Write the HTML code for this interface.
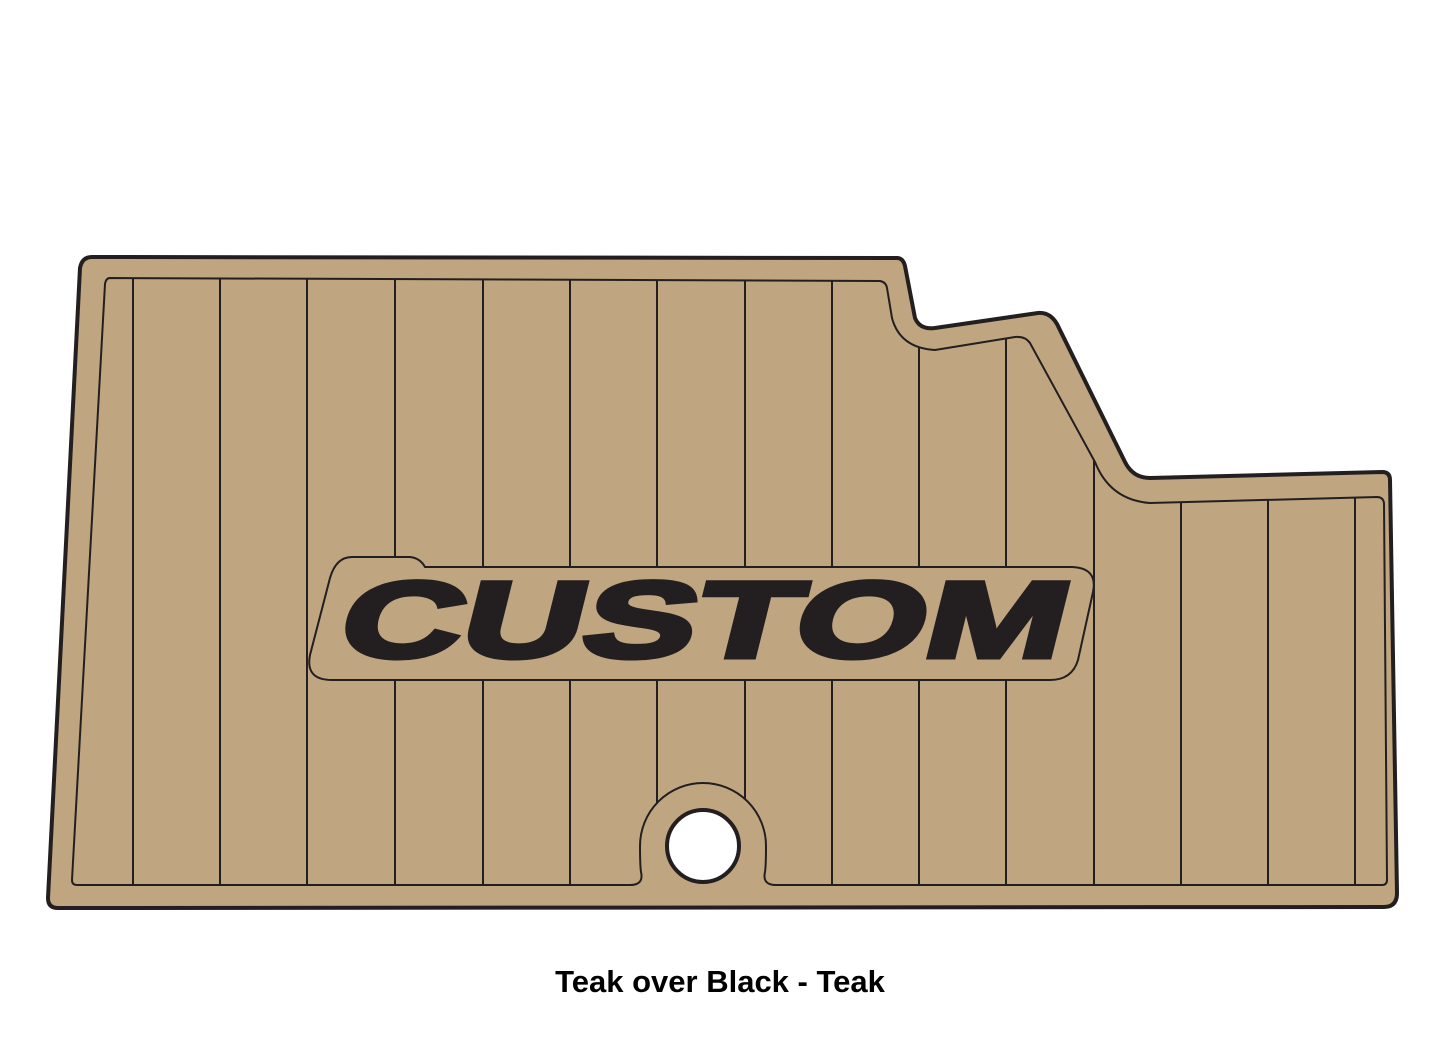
<!DOCTYPE html>
<html><head><style>html,body{margin:0;padding:0;background:#fff;}svg{display:block}</style></head>
<body>
<svg width="1445" height="1053" viewBox="0 0 1445 1053" xmlns="http://www.w3.org/2000/svg">
<defs>
<clipPath id="inner"><path d="M110 278 L880 281 Q886 282 887 288 L892 318 Q900 348 935 350 L1015 337 Q1025 336 1030 343 L1095 462 Q1110 500 1150 503 L1377 497 Q1383 497 1384 503 L1387 880 Q1387 885 1382 885 L77 885 Q72 885 72 880 L105 284 Q106 278 110 278 Z"/></clipPath>
</defs>
<path d="M92 257 L897 258 Q903 258 905 266 L915 318 Q920 330 935 328 L1038 313 Q1050 312 1057 324 L1125 462 Q1133 478 1150 478 L1382 472 Q1390 472 1390 480 L1397 893 Q1397 907 1384 907 L58 908 Q48 908 48 898 L80 268 Q82 257 92 257 Z" fill="#bfa580" stroke="#231f20" stroke-width="4"/>
<g clip-path="url(#inner)" stroke="#231f20" stroke-width="2">
<line x1="133" y1="270" x2="133" y2="890"/><line x1="220" y1="270" x2="220" y2="890"/>
<line x1="307" y1="270" x2="307" y2="890"/><line x1="395" y1="270" x2="395" y2="890"/>
<line x1="483" y1="270" x2="483" y2="890"/><line x1="570" y1="270" x2="570" y2="890"/>
<line x1="657" y1="270" x2="657" y2="890"/><line x1="745" y1="270" x2="745" y2="890"/>
<line x1="832" y1="270" x2="832" y2="890"/><line x1="919" y1="270" x2="919" y2="890"/>
<line x1="1006" y1="270" x2="1006" y2="890"/><line x1="1094" y1="270" x2="1094" y2="890"/>
<line x1="1181" y1="270" x2="1181" y2="890"/><line x1="1268" y1="270" x2="1268" y2="890"/>
<line x1="1355" y1="270" x2="1355" y2="890"/>
</g>
<path d="M110 278 L880 281 Q886 282 887 288 L892 318 Q900 348 935 350 L1015 337 Q1025 336 1030 343 L1095 462 Q1110 500 1150 503 L1377 497 Q1383 497 1384 503 L1387 880 Q1387 885 1382 885 L77 885 Q72 885 72 880 L105 284 Q106 278 110 278 Z" fill="none" stroke="#231f20" stroke-width="2"/>
<path d="M630 886 Q644 886 641 872 Q640 865 640 846 A63 63 0 0 1 766 846 Q766 865 765 872 Q762 886 776 886 Z" fill="#bfa580" stroke="none"/>
<path d="M630 885 Q644 885 641 872 Q640 865 640 846 A63 63 0 0 1 766 846 Q766 865 765 872 Q762 885 776 885" fill="none" stroke="#231f20" stroke-width="2"/>
<circle cx="703" cy="846" r="36" fill="#fff" stroke="#231f20" stroke-width="4"/>
<path d="M352 557 L410 557 Q420 558 425 567 L1072 567 Q1098 568 1093 592 L1078 660 Q1072 680 1050 680 L332 680 Q305 680 310 655 L330 578 Q336 557 352 557 Z" fill="#bfa580" stroke="#231f20" stroke-width="2"/>
<text x="335" y="657" font-family="Liberation Sans, sans-serif" font-weight="bold" font-size="108" fill="#231f20" stroke="#231f20" stroke-width="5" stroke-linejoin="miter" textLength="725" lengthAdjust="spacingAndGlyphs" transform="skewX(-14) translate(163 0)">CUSTOM</text>
<text x="720" y="992" text-anchor="middle" font-family="Liberation Sans, sans-serif" font-weight="bold" font-size="31" fill="#000">Teak over Black - Teak</text>
</svg>
</body></html>
